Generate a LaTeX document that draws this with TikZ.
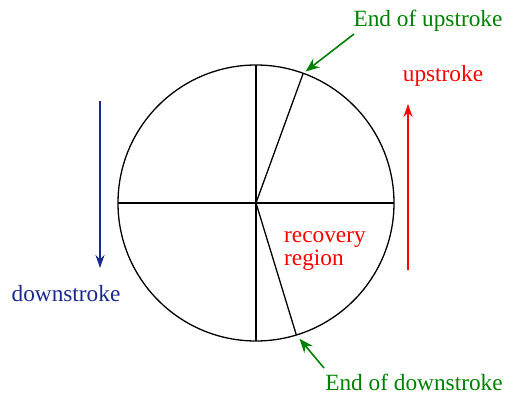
\documentclass[tikz,border=0pt]{standalone}
\usepackage{fontspec}
\setmainfont{Liberation Serif}
\usetikzlibrary{arrows.meta,positioning,calc}
\definecolor{Gc}{HTML}{008000}
\definecolor{Rc}{HTML}{FF0000}
\definecolor{Bc}{HTML}{1A2A8C}
\tikzset{
  wheel/.style={circle, draw=black, line width=1.3pt, inner sep=0pt, outer sep=0pt, minimum size=276pt},
  spoke/.style={black, line width=1.3pt},
  lbl/.style={font=\fontsize{23.3}{23}\selectfont, inner sep=0pt},
  callout/.style={Gc, line width=1.6pt, -{Stealth[length=14pt, width=11pt]}},
  motion/.style={line width=1.8pt, -{Stealth[length=13pt, width=9pt]}},
}
\begin{document}
\begin{tikzpicture}[x=1pt, y=-1pt]
  \useasboundingbox (0,0) rectangle (507,394);
  % wheel and spokes
  \node[wheel] (W) at (256,203) {};
  \coordinate (C) at (W.center);
  \draw[spoke] (W.west) -- (W.east);
  \draw[spoke] (W.north) -- (W.south);
  \draw[spoke] (C) -- (W.70.3);
  \draw[spoke] (C) -- (W.287.2);
  \node[lbl, Rc, align=left, anchor=north west] (rec) at (284,231) {recovery\\region};
  % stroke ends
  \node[lbl, Gc] (upend) at (428,21) {End of upstroke};
  \coordinate (upt) at (354,34);
  \draw[callout, shorten >=3pt] (upt) -- (W.70.3);
  \node[lbl, Gc] (dnend) at (414,382) {End of downstroke};
  \coordinate (dnt) at (324,368);
  \draw[callout, shorten >=5pt] (dnt) -- (W.287.2);
  % strokes
  \coordinate (d0) at (100,101);
  \coordinate (d1) at (100,268);
  \draw[motion, Bc] (d0) -- (d1);
  \node[lbl, Bc] (dn) at (66,294) {downstroke};
  \coordinate (u0) at (408,270);
  \coordinate (u1) at (408,104);
  \draw[motion, Rc] (u0) -- (u1);
  \node[lbl, Rc] (up) at (443,76) {upstroke};
\end{tikzpicture}
\end{document}
